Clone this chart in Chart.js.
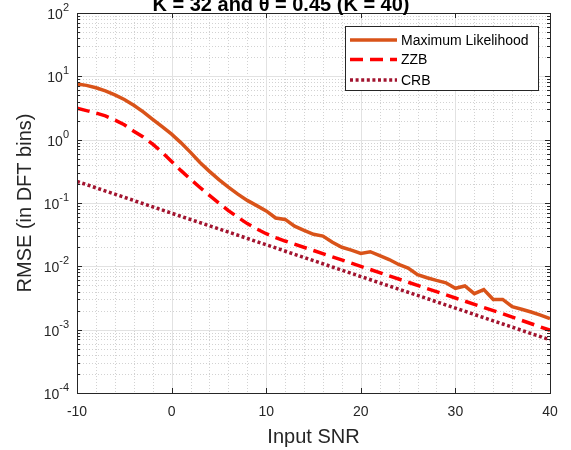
<!DOCTYPE html>
<html>
<head>
<meta charset="utf-8">
<script src="https://cdn.jsdelivr.net/npm/chart.js@4.4.1/dist/chart.umd.min.js"></script>
<style>
    html, body { margin: 0; padding: 0; background: #fff; }
    #grafico { display: block; }
</style>
</head>
<body>
<canvas id="grafico" width="571" height="450"></canvas>
<script>
// Dados
const snrML = [-10, -9, -8, -7, -6, -5, -4, -3, -2, -1, 0, 1, 2, 3, 4, 5, 6, 7, 8, 9, 10,
    11, 12, 13, 14, 15, 16, 17, 18, 19, 20, 21, 22, 23, 24, 25, 26, 27, 28, 29, 30,
    31, 32, 33, 34, 35, 36, 37, 38, 39, 40];
const rmseML = [7.6, 7.2, 6.6, 5.9, 5.1, 4.3, 3.5, 2.75, 2.1, 1.6, 1.22, 0.89, 0.63, 0.437, 0.316, 0.234, 0.178, 0.138, 0.110, 0.091, 0.075,
    0.058, 0.055, 0.043, 0.037, 0.032, 0.030, 0.024, 0.020, 0.018, 0.016, 0.017, 0.0148, 0.0128, 0.0107, 0.0094, 0.0074, 0.0066, 0.0060, 0.0055, 0.0045,
    0.0049, 0.0037, 0.0043, 0.0030, 0.0030, 0.0023, 0.0021, 0.0019, 0.0017, 0.0015];

const snrZZB = [-10, -9, -8, -7, -6, -5, -4, -3, -2, -1, 0, 1, 2, 3, 4, 5, 6, 7, 8, 9, 10, 11, 12, 15, 20, 25, 30, 35, 40];
const rmseZZB = [3.15, 2.88, 2.63, 2.37, 2.04, 1.72, 1.36, 1.10, 0.851, 0.631, 0.452, 0.324, 0.237, 0.176, 0.132, 0.100, 0.0759, 0.0596, 0.0473, 0.0389, 0.0327,
    0.0285, 0.0251, 0.0178, 0.0100, 0.00562, 0.00316, 0.00178, 0.00098];

const snrCRB = [-10, -5, 0, 5, 10, 15, 20, 25, 30, 35, 40];
const rmseCRB = [0.219, 0.123, 0.069, 0.039, 0.0219, 0.0123, 0.0069, 0.0039, 0.00219, 0.00123, 0.00069];

const xTicks = [-10, 0, 10, 20, 30, 40];
const yExpoentes = [2, 1, 0, -1, -2, -3, -4];
const nomesSeries = ["Maximum Likelihood", "ZZB", "CRB"];
const tituloGrafico = "K = 32 and \u03B8 = 0.45 (K = 40)";

const corML = "#D95319";
const corZZB = "#FF0000";
const corCRB = "#A2142F";
const corEixo = "#262626";
const fonte = "'Liberation Sans', Arial, sans-serif";

// Função auxiliar para desenhar uma linha
function linha(ctx, x1, y1, x2, y2) {
    ctx.beginPath();
    ctx.moveTo(x1, y1);
    ctx.lineTo(x2, y2);
    ctx.stroke();
}

// Plugin para grade, eixos, rótulos e legenda no estilo MATLAB
const estiloMatlab = {
    id: "estiloMatlab",
    beforeDatasetsDraw(chart) {
        const { ctx, chartArea: a, scales: { x, y } } = chart;
        ctx.save();
        ctx.lineWidth = 1;

        // grade menor (pontilhada)
        ctx.strokeStyle = "#d2d2d2";
        ctx.setLineDash([1, 2]);
        for (let v = -10; v <= 40; v += 2) {
            if (v % 10 === 0) continue;
            const px = Math.round(x.getPixelForValue(v)) + 0.5;
            linha(ctx, px, a.top, px, a.bottom);
        }
        yExpoentes.forEach(e => {
            for (let k = 2; k <= 9; k++) {
                const val = k * Math.pow(10, e);
                if (val > 100) continue;
                const py = Math.round(y.getPixelForValue(val)) + 0.5;
                linha(ctx, a.left, py, a.right, py);
            }
        });

        // grade maior
        ctx.setLineDash([]);
        ctx.strokeStyle = "#e2e2e2";
        xTicks.forEach(v => {
            const px = Math.round(x.getPixelForValue(v)) + 0.5;
            linha(ctx, px, a.top, px, a.bottom);
        });
        yExpoentes.forEach(e => {
            const py = Math.round(y.getPixelForValue(Math.pow(10, e))) + 0.5;
            linha(ctx, a.left, py, a.right, py);
        });
        ctx.restore();
    },
    afterDatasetsDraw(chart) {
        const { ctx, chartArea: a, scales: { x, y } } = chart;
        ctx.save();

        // caixa dos eixos
        ctx.strokeStyle = corEixo;
        ctx.lineWidth = 1;
        ctx.strokeRect(a.left + 0.5, a.top + 0.5, a.right - a.left, a.bottom - a.top);

        // marcas dos eixos
        xTicks.forEach(v => {
            const px = Math.round(x.getPixelForValue(v)) + 0.5;
            linha(ctx, px, a.bottom, px, a.bottom - 5);
            linha(ctx, px, a.top, px, a.top + 5);
        });
        yExpoentes.forEach(e => {
            const py = Math.round(y.getPixelForValue(Math.pow(10, e))) + 0.5;
            linha(ctx, a.left, py, a.left + 5, py);
            linha(ctx, a.right, py, a.right - 5, py);
            for (let k = 2; k <= 9; k++) {
                const val = k * Math.pow(10, e);
                if (val > 100) continue;
                const pm = Math.round(y.getPixelForValue(val)) + 0.5;
                linha(ctx, a.left, pm, a.left + 3, pm);
                linha(ctx, a.right, pm, a.right - 3, pm);
            }
        });

        // rótulos do eixo x
        ctx.fillStyle = corEixo;
        ctx.font = "14px " + fonte;
        ctx.textAlign = "center";
        ctx.textBaseline = "middle";
        xTicks.forEach(v => {
            ctx.fillText(String(v), x.getPixelForValue(v), a.bottom + 19);
        });

        // rótulos do eixo y (10 com expoente)
        yExpoentes.forEach(e => {
            const py = y.getPixelForValue(Math.pow(10, e));
            const expTxt = String(e);
            ctx.font = "11px " + fonte;
            const wExp = ctx.measureText(expTxt).width;
            const xExp = a.left - 8 - wExp;
            ctx.textAlign = "left";
            ctx.fillText(expTxt, xExp, py - 5);
            ctx.font = "14px " + fonte;
            ctx.textAlign = "right";
            ctx.fillText("10", xExp, py + 2);
        });

        // títulos dos eixos
        ctx.font = "20px " + fonte;
        ctx.textAlign = "center";
        ctx.fillText("Input SNR", (a.left + a.right) / 2, 437);
        ctx.save();
        ctx.translate(25, (a.top + a.bottom) / 2);
        ctx.rotate(-Math.PI / 2);
        ctx.fillText("RMSE (in DFT bins)", 0, 0);
        ctx.restore();

        // título (cortado no topo)
        ctx.font = "bold 20px " + fonte;
        ctx.fillStyle = "#000";
        ctx.textBaseline = "alphabetic";
        ctx.fillText(tituloGrafico, 281, 10.5);

        // legenda
        const lx = 345, ly = 26, lw = 193, lh = 64;
        ctx.fillStyle = "#fff";
        ctx.fillRect(lx, ly, lw, lh);
        ctx.strokeStyle = corEixo;
        ctx.lineWidth = 1;
        ctx.strokeRect(lx + 0.5, ly + 0.5, lw, lh);
        const estilos = [
            { cor: corML, dash: [] },
            { cor: corZZB, dash: [13, 7] },
            { cor: corCRB, dash: [3, 2.6] }
        ];
        const linhasY = [40, 59.5, 80];
        ctx.font = "14px " + fonte;
        ctx.textAlign = "left";
        ctx.textBaseline = "middle";
        nomesSeries.forEach((nome, i) => {
            ctx.strokeStyle = estilos[i].cor;
            ctx.lineWidth = 3.5;
            ctx.setLineDash(estilos[i].dash);
            linha(ctx, 350, linhasY[i], 397, linhasY[i]);
            ctx.setLineDash([]);
            ctx.fillStyle = "#000";
            ctx.fillText(nome, 401, linhasY[i] + 1);
        });
        ctx.restore();
    }
};

function pontos(xs, ys) {
    return xs.map((v, i) => ({ x: v, y: ys[i] }));
}

new Chart(document.getElementById("grafico"), {
    type: "line",
    data: {
        datasets: [
            {
                label: nomesSeries[0],
                data: pontos(snrML, rmseML),
                borderColor: corML,
                borderWidth: 3.5,
                pointRadius: 0,
                tension: 0
            },
            {
                label: nomesSeries[1],
                data: pontos(snrZZB, rmseZZB),
                borderColor: corZZB,
                borderWidth: 3.5,
                borderDash: [13, 7],
                pointRadius: 0,
                tension: 0
            },
            {
                label: nomesSeries[2],
                data: pontos(snrCRB, rmseCRB),
                borderColor: corCRB,
                borderWidth: 3.5,
                borderDash: [3, 2.6],
                pointRadius: 0,
                tension: 0
            }
        ]
    },
    options: {
        responsive: false,
        animation: false,
        layout: { padding: { left: 77, top: 13, right: 21, bottom: 57 } },
        scales: {
            x: { type: "linear", min: -10, max: 40, display: false },
            y: { type: "logarithmic", min: 1e-4, max: 100, display: false }
        },
        plugins: {
            legend: { display: false },
            tooltip: { enabled: false }
        }
    },
    plugins: [estiloMatlab]
});
</script>
</body>
</html>
